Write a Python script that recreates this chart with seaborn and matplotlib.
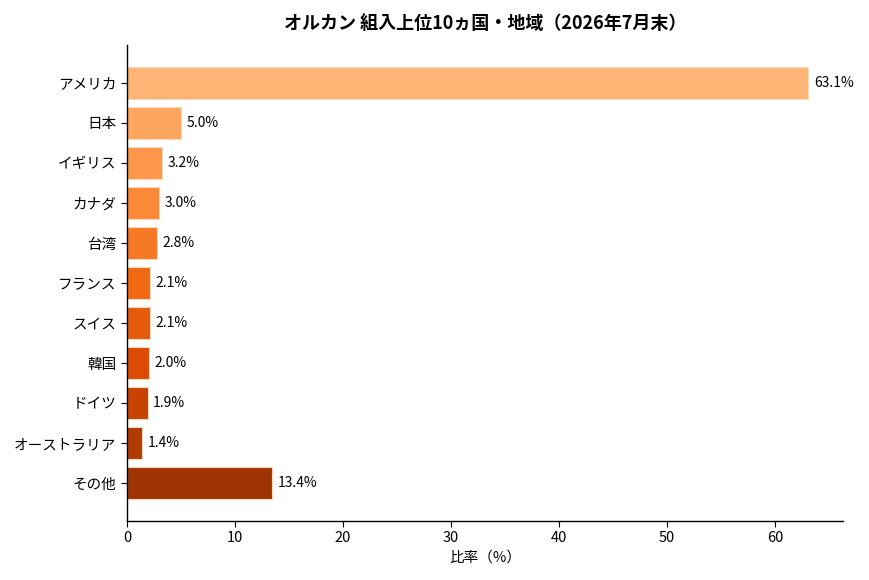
import numpy as np
import pandas as pd
import seaborn as sns
import matplotlib.pyplot as plt

# 組入上位10ヵ国・地域のデータ
countries = ['アメリカ', '日本', 'イギリス', 'カナダ', '台湾', 'フランス',
             'スイス', '韓国', 'ドイツ', 'オーストラリア', 'その他']
ratios = [63.1, 5.0, 3.2, 3.0, 2.8, 2.1, 2.1, 2.0, 1.9, 1.4, 13.4]

df = pd.DataFrame({'country': countries, 'ratio': ratios})

sns.set_style('white', {'text.color': 'black', 'axes.labelcolor': 'black',
                        'xtick.color': 'black', 'ytick.color': 'black',
                        'axes.edgecolor': 'black'})
plt.rcParams['font.family'] = ['Noto Sans CJK JP', 'DejaVu Sans']

colors = [plt.cm.Oranges(v) for v in np.linspace(0.35, 0.9, len(countries))]

fig, ax = plt.subplots(figsize=(8.7, 5.8), dpi=100)
sns.barplot(data=df, x='ratio', y='country', hue='country', palette=colors,
            legend=False, width=0.8, saturation=1, edgecolor='#f6d9bd',
            linewidth=0.8, ax=ax)

for cont in ax.containers:
    ax.bar_label(cont, fmt='%.1f%%', padding=4, fontsize=10, color='black')

ax.set_ylim(len(countries) - 1 + 0.94, -0.94)
ax.set_xlim(0, 66.3)
ax.set_title('オルカン 組入上位10ヵ国・地域（2026年7月末）', fontsize=13,
             fontweight='bold', pad=12)
ax.set_xlabel('比率（%）', fontsize=10.5)
ax.set_ylabel('')
ax.tick_params(axis='both', labelsize=10.5, length=4, color='black', left=True, bottom=True)
for s in ['top', 'right']:
    ax.spines[s].set_visible(False)
for s in ['left', 'bottom']:
    ax.spines[s].set_linewidth(1.0)

plt.subplots_adjust(left=0.146, right=0.969, top=0.922, bottom=0.102)
plt.savefig('out.png', dpi=100)
